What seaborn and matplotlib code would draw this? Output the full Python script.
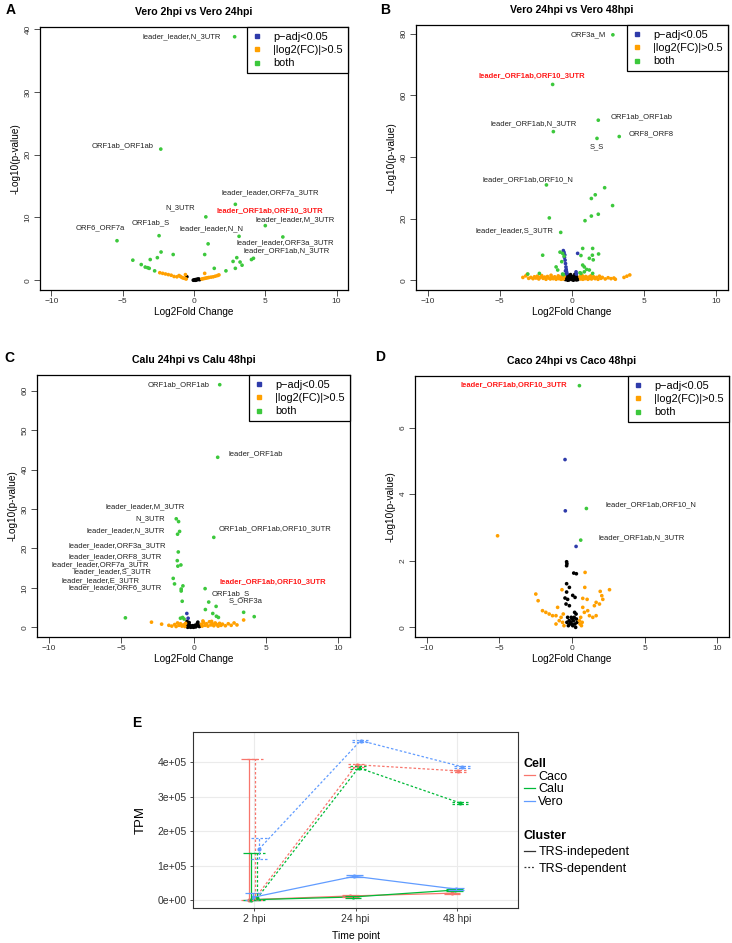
import numpy as np
import pandas as pd
import matplotlib
matplotlib.use("Agg")
import matplotlib.pyplot as plt
import seaborn as sns
from matplotlib.lines import Line2D

plt.rcParams['font.family'] = ['Liberation Sans', 'DejaVu Sans']

# ---------------- volcano data: (log2FC, -log10 p) ----------------
A_BOTH = [(2.85, 38.8), (-2.33, 20.9), (2.9, 12.1), (0.83, 10.1), (5.0, 8.7), (-5.4, 6.3),
          (-2.45, 7.1), (3.16, 7.0), (6.23, 6.9), (0.99, 5.8), (-2.31, 4.5), (-1.46, 4.1),
          (-2.57, 3.6), (0.75, 4.1), (3.0, 3.6), (-4.29, 3.2), (-3.07, 3.3), (2.74, 3.0),
          (3.23, 2.9), (4.03, 3.3), (4.17, 3.5), (3.37, 2.4), (-3.7, 2.5), (-3.42, 2.1),
          (-3.25, 2.0), (-3.14, 1.9), (-2.76, 1.5), (1.42, 1.9), (2.9, 1.9), (2.24, 1.5)]
A_LFC = [(-2.4, 1.2), (-2.2, 1.1), (-2.0, 1.0), (-1.8, 0.9), (-1.6, 0.8), (-1.4, 0.6),
         (-1.2, 0.55), (-1.05, 0.75), (-0.95, 0.6), (-0.85, 0.45), (-0.75, 0.35), (-0.65, 0.3),
         (-0.6, 0.9), (-0.55, 0.2), (0.55, 0.2), (0.65, 0.25), (0.75, 0.3), (0.85, 0.35),
         (0.95, 0.4), (1.05, 0.45), (1.2, 0.5), (1.35, 0.55), (1.5, 0.65), (1.65, 0.75),
         (1.75, 0.85), (0.75, 1.1)]
A_PADJ = []
A_NONE = [(0.0, 0.0), (0.05, 0.05), (0.1, 0.1), (0.15, 0.05), (0.2, 0.15), (0.25, 0.1),
          (0.3, 0.2), (0.35, 0.15), (0.1, 0.0), (-0.05, 0.02), (-0.5, 0.55), (0.4, 0.1)]
A_LABELS = [("leader_leader,N_3UTR", -0.83, 38.8, False), ("ORF1ab_ORF1ab", -5.0, 21.4, False),
            ("leader_leader,ORF7a_3UTR", 5.38, 13.9, False), ("N_3UTR", -0.94, 11.5, False),
            ("leader_ORF1ab,ORF10_3UTR", 5.31, 11.0, True), ("leader_leader,M_3UTR", 7.08, 9.7, False),
            ("ORF1ab_S", -3.07, 9.2, False), ("ORF6_ORF7a", -6.56, 8.35, False),
            ("leader_leader,N_N", 1.23, 8.2, False), ("leader_leader,ORF3a_3UTR", 6.42, 6.0, False),
            ("leader_ORF1ab,N_3UTR", 6.49, 4.7, False)]

B_BOTH = [(2.83, 79.6), (-1.34, 63.5), (1.82, 51.9), (-1.29, 48.2), (3.27, 46.6), (1.73, 46.0),
          (-1.77, 30.9), (2.26, 30.0), (1.61, 27.7), (1.34, 26.5), (2.81, 24.2), (-1.57, 20.2),
          (1.82, 21.4), (1.34, 20.8), (0.9, 19.3), (-0.78, 15.5),
          (-2.03, 8.1), (-0.83, 9.1), (-0.65, 8.7), (-0.55, 7.8), (0.74, 10.3), (1.43, 10.3),
          (1.41, 8.1), (1.84, 8.5), (1.2, 7.1), (1.47, 6.6), (0.62, 8.0), (-1.1, 4.3),
          (-0.99, 3.3), (-0.71, 6.0), (0.74, 4.9), (0.85, 4.3), (1.01, 3.5), (1.2, 3.3),
          (0.85, 2.7), (0.62, 2.2), (-3.06, 2.0), (-2.26, 2.2), (-0.65, 2.0), (-0.6, 1.8),
          (0.55, 2.4), (1.43, 2.2)]
B_PADJ = [(-0.6, 9.6), (-0.55, 9.0), (-0.5, 8.2), (-0.52, 7.4), (-0.48, 6.5), (-0.45, 5.4),
          (-0.42, 4.3), (-0.4, 3.5), (-0.38, 2.8), (-0.35, 2.2), (-0.45, 3.0), (0.28, 2.7),
          (0.39, 8.7), (0.3, 2.0), (-0.5, 1.6)]
B_LFC = [(-3.4, 0.9), (-3.2, 1.4), (-3.1, 1.9), (-3.0, 0.6), (-2.85, 0.9), (-2.7, 0.5),
         (-2.6, 1.1), (-2.5, 0.7), (-2.4, 1.3), (-2.3, 0.4), (-2.2, 0.9), (-2.1, 1.5),
         (-2.0, 0.6), (-1.9, 1.0), (-1.8, 0.3), (-1.7, 1.2), (-1.6, 0.7), (-1.5, 0.4),
         (-1.45, 1.6), (-1.4, 0.9), (-1.3, 0.5), (-1.2, 1.1), (-1.1, 0.3), (-1.0, 0.8),
         (-0.95, 1.4), (-0.9, 0.5), (-0.8, 1.0), (-0.75, 0.3), (-0.7, 0.7), (-0.65, 1.7),
         (-0.6, 0.4), (-0.55, 1.2), (0.55, 1.1), (0.6, 0.4), (0.65, 0.8), (0.7, 1.5),
         (0.75, 0.3), (0.8, 0.9), (0.9, 0.5), (0.95, 1.2), (1.0, 0.7), (1.1, 0.3),
         (1.15, 1.0), (1.2, 0.6), (1.3, 1.4), (1.35, 0.4), (1.45, 0.8), (1.5, 1.1),
         (1.6, 0.5), (1.7, 0.9), (1.8, 0.3), (1.9, 1.3), (2.0, 0.6), (2.1, 0.9),
         (2.3, 0.4), (2.5, 0.8), (2.7, 0.5), (2.9, 0.7), (3.0, 0.3), (3.6, 0.9),
         (3.8, 1.3), (4.0, 1.7)]
B_NONE = [(-0.45, 0.2), (-0.4, 0.8), (-0.35, 1.2), (-0.3, 0.4), (-0.25, 1.6), (-0.2, 0.1),
          (-0.15, 0.9), (-0.1, 0.5), (-0.05, 1.3), (0.0, 0.2), (0.05, 0.7), (0.1, 1.1),
          (0.15, 0.3), (0.2, 0.8), (0.25, 1.5), (0.3, 0.5), (0.35, 1.0), (0.4, 0.2),
          (0.45, 0.6), (-0.42, 1.9), (-0.1, 1.8), (0.2, 1.9), (-0.3, 0.0), (0.1, 0.0), (0.3, 0.1)]
B_LABELS = [("ORF3a_M", 1.15, 79.6, False), ("leader_ORF1ab,ORF10_3UTR", -2.79, 66.2, True),
            ("ORF1ab_ORF1ab", 4.82, 53.0, False), ("leader_ORF1ab,N_3UTR", -2.65, 50.6, False),
            ("ORF8_ORF8", 5.46, 47.4, False), ("S_S", 1.73, 43.4, False),
            ("leader_ORF1ab,ORF10_N", -3.06, 32.7, False), ("leader_leader,S_3UTR", -3.99, 16.1, False)]

C_BOTH = [(1.81, 61.5), (1.67, 43.1), (-1.19, 27.5), (-1.03, 26.8), (-0.96, 24.3), (-1.1, 23.6),
          (1.4, 22.8), (-1.05, 19.1), (-1.12, 16.9), (-0.87, 15.8), (-1.08, 15.5), (-1.4, 12.4),
          (-1.31, 11.0), (-0.73, 10.5), (-0.85, 9.7), (-0.85, 9.2), (0.8, 9.8), (-0.78, 6.6),
          (1.05, 6.4), (1.56, 5.3), (0.82, 4.5), (1.33, 3.5), (1.58, 2.8), (1.72, 2.5),
          (3.46, 3.8), (4.19, 2.7), (-4.7, 2.4), (-0.9, 2.3), (-0.75, 2.5), (-0.65, 2.1)]
C_PADJ = [(-0.46, 3.5), (-0.37, 2.3)]
C_LFC = [(-2.9, 1.3), (-2.2, 0.8), (3.46, 1.85), (-1.7, 0.5), (-1.5, 0.3), (-1.3, 0.7),
         (-1.2, 0.2), (-1.0, 0.5), (-0.9, 0.9), (-0.8, 0.3), (-0.7, 0.6), (-0.6, 0.2),
         (-0.55, 1.0), (0.55, 0.8), (0.6, 0.3), (0.7, 1.2), (0.8, 0.5), (0.9, 0.9),
         (1.0, 0.3), (1.1, 1.4), (1.2, 0.6), (1.3, 0.9), (1.4, 0.4), (1.5, 1.1),
         (1.6, 0.7), (1.7, 0.3), (1.8, 1.0), (1.9, 0.5), (2.0, 0.8), (2.2, 0.4),
         (2.4, 0.9), (2.6, 0.5), (2.8, 1.1), (3.0, 0.6), (0.65, 1.6), (1.25, 1.5), (-1.1, 1.1)]
C_NONE = [(-0.45, 0.3), (-0.4, 0.0), (-0.35, 0.8), (-0.3, 0.2), (-0.25, 0.5), (-0.2, 0.0),
          (-0.15, 0.3), (-0.1, 0.1), (-0.05, 0.4), (0.0, 0.0), (0.05, 0.2), (0.1, 0.5),
          (0.15, 0.1), (0.2, 0.3), (0.25, 0.9), (0.3, 1.3), (0.35, 0.6), (0.4, 0.2),
          (0.45, 0.4), (-0.3, 1.2), (-0.45, 1.5)]
C_LABELS = [("ORF1ab_ORF1ab", -1.03, 61.5, False), ("leader_ORF1ab", 4.31, 44.0, False),
            ("leader_leader,M_3UTR", -3.37, 30.6, False), ("N_3UTR", -2.98, 27.4, False),
            ("leader_leader,N_3UTR", -4.7, 24.5, False), ("ORF1ab_ORF1ab,ORF10_3UTR", 5.64, 25.0, False),
            ("leader_leader,ORF3a_3UTR", -5.27, 20.6, False), ("leader_leader,ORF8_3UTR", -5.43, 18.0, False),
            ("leader_leader,ORF7a_3UTR", -6.41, 15.9, False), ("leader_leader,S_3UTR", -5.59, 14.1, False),
            ("leader_leader,E_3UTR", -6.39, 11.8, False), ("leader_ORF1ab,ORF10_3UTR", 5.45, 11.4, True),
            ("leader_leader,ORF6_3UTR", -5.43, 9.9, False), ("ORF1ab_S", 2.59, 8.6, False),
            ("S_ORF3a", 3.62, 6.6, False)]

D_BOTH = [(0.51, 7.26), (0.99, 3.57), (0.6, 2.62)]
D_PADJ = [(-0.48, 5.04), (-0.46, 3.5), (0.28, 2.43)]
D_LFC = [(-5.12, 2.75), (0.9, 1.65), (0.88, 1.2), (2.58, 1.13), (1.94, 1.08), (-2.49, 1.0),
         (-0.69, 1.13), (2.05, 0.95), (-2.33, 0.8), (2.12, 0.84), (0.74, 0.87), (1.04, 0.84),
         (1.66, 0.75), (1.54, 0.65), (1.89, 0.7), (-2.03, 0.5), (-1.8, 0.45), (-1.57, 0.4),
         (-1.34, 0.35), (-1.1, 0.35), (-0.99, 0.6), (-0.88, 0.2), (-0.65, 0.15), (0.74, 0.6),
         (0.85, 0.45), (1.08, 0.5), (1.2, 0.35), (1.43, 0.3), (1.66, 0.35), (0.51, 0.2),
         (0.55, 0.1), (-1.1, 0.1), (-0.6, 0.4), (-0.75, 0.3), (0.6, 0.3), (0.7, 0.15),
         (-0.55, 0.05), (0.65, 0.05)]
D_NONE = [(-0.37, 1.97), (-0.35, 1.91), (-0.37, 1.85), (0.12, 1.63), (0.3, 1.61), (-0.37, 1.31),
          (-0.18, 1.2), (-0.37, 1.06), (0.05, 0.96), (0.21, 0.9), (-0.48, 0.88), (-0.3, 0.84),
          (-0.41, 0.7), (-0.18, 0.65), (0.18, 0.45), (0.28, 0.4), (-0.3, 0.3), (-0.2, 0.2),
          (-0.1, 0.15), (0.0, 0.1), (0.1, 0.2), (0.2, 0.1), (0.3, 0.25), (-0.05, 0.3),
          (0.05, 0.05), (-0.25, 0.05), (0.15, 0.3), (-0.15, 0.1), (0.35, 0.15), (-0.35, 0.15),
          (0.0, 0.25), (0.25, 0.0)]
D_LABELS = [("leader_ORF1ab,ORF10_3UTR", -3.99, 7.26, True),
            ("leader_ORF1ab,ORF10_N", 5.41, 3.67, False),
            ("leader_ORF1ab,N_3UTR", 4.82, 2.69, False)]

# ---------------- time course data (TPM) ----------------
TIMES = ["2 hpi", "24 hpi", "48 hpi"]
CELLS = ["Caco", "Calu", "Vero"]
CLUSTERS = ["TRS-indepedent", "TRS-dependent"]
TPM_MEAN = {
    ("Caco", "TRS-indepedent"): [1e3, 1.2e4, 2.0e4],
    ("Calu", "TRS-indepedent"): [1e3, 0.9e4, 2.9e4],
    ("Vero", "TRS-indepedent"): [8e3, 6.9e4, 3.2e4],
    ("Caco", "TRS-dependent"): [5e3, 3.93e5, 3.75e5],
    ("Calu", "TRS-dependent"): [5e3, 3.84e5, 2.82e5],
    ("Vero", "TRS-dependent"): [1.48e5, 4.63e5, 3.87e5],
}
TPM_LO = {
    ("Caco", "TRS-indepedent"): [0, 1.0e4, 1.8e4],
    ("Calu", "TRS-indepedent"): [0, 0.7e4, 2.7e4],
    ("Vero", "TRS-indepedent"): [0, 6.6e4, 3.0e4],
    ("Caco", "TRS-dependent"): [0, 3.86e5, 3.72e5],
    ("Calu", "TRS-dependent"): [0, 3.80e5, 2.79e5],
    ("Vero", "TRS-dependent"): [1.2e5, 4.60e5, 3.84e5],
}
TPM_HI = {
    ("Caco", "TRS-indepedent"): [4.1e5, 1.4e4, 2.2e4],
    ("Calu", "TRS-indepedent"): [1.37e5, 1.1e4, 3.1e4],
    ("Vero", "TRS-indepedent"): [2.0e4, 7.2e4, 3.4e4],
    ("Caco", "TRS-dependent"): [4.1e5, 3.96e5, 3.78e5],
    ("Calu", "TRS-dependent"): [1.37e5, 3.88e5, 2.85e5],
    ("Vero", "TRS-dependent"): [1.8e5, 4.65e5, 3.90e5],
}

PAL = {"none": "black", "padj": "#2E3BAA", "lfc": "#FFA000", "both": "#3CC83C"}
CELL_PAL = {"Caco": "#F8766D", "Calu": "#00BA38", "Vero": "#619CFF"}
W, H = 732, 943

fig = plt.figure(figsize=(W / 100, H / 100), dpi=100)


def px_axes(l, t, r, b):
    return fig.add_axes([l / W, 1 - b / H, (r - l) / W, (b - t) / H])


def volcano(ax, groups, labels, yticks, title, letter, letter_xy):
    rows = []
    for cat, pts in groups:
        for x, y in pts:
            rows.append({"lfc": x, "nlp": y, "cat": cat})
    df = pd.DataFrame(rows)
    sns.scatterplot(data=df, x="lfc", y="nlp", hue="cat", palette=PAL,
                    hue_order=["none", "padj", "lfc", "both"], s=7, linewidth=0,
                    legend=False, ax=ax)
    r = df.nlp.max()
    ax.set_ylim(-0.04 * r, r * 1.04)
    ax.set_xlim(-10.8, 10.8)
    ax.set_xticks([-10, -5, 0, 5, 10])
    ax.set_xticklabels(["\u221210", "\u22125", "0", "5", "10"])
    ax.set_yticks(yticks)
    ax.tick_params(labelsize=6, colors="#333333", length=4, width=0.6, pad=2)
    plt.setp(ax.get_yticklabels(), rotation=90, va="center")
    for s in ax.spines.values():
        s.set_linewidth(0.9)
        s.set_color("black")
    ax.set_xlabel("Log2Fold Change", fontsize=7.2, labelpad=1)
    ax.set_ylabel("-Log10(p-value)", fontsize=7.2, labelpad=3)
    ax.set_title(title, fontsize=7.6, fontweight="bold", pad=8.5)
    for txt, x, y, red in labels:
        ax.text(x, y, txt, ha="center", va="center", fontsize=5.5,
                color="#FF1A1A" if red else "#222222",
                fontweight="bold" if red else "normal")
    handles = [Line2D([], [], marker="s", ls="", color=PAL[k], ms=2.5)
               for k in ["padj", "lfc", "both"]]
    leg = ax.legend(handles, ["p\u2212adj<0.05", "|log2(FC)|>0.5", "both"],
                    loc="upper right", borderaxespad=0, fontsize=7.8,
                    fancybox=False, framealpha=1, edgecolor="black",
                    handletextpad=1.0, labelspacing=0.3, borderpad=0.45,
                    handlelength=1.0)
    leg.get_frame().set_linewidth(0.9)
    fig.text(letter_xy[0] / W, 1 - letter_xy[1] / H, letter, fontsize=10,
             fontweight="bold", ha="center", va="center")


axA = px_axes(40, 27, 348, 290)
volcano(axA, [("none", A_NONE), ("padj", A_PADJ), ("lfc", A_LFC), ("both", A_BOTH)],
        A_LABELS, [0, 10, 20, 30, 40], "Vero 2hpi vs Vero 24hpi", "A", (11, 10))
axB = px_axes(416, 25, 728, 290)
volcano(axB, [("none", B_NONE), ("padj", B_PADJ), ("lfc", B_LFC), ("both", B_BOTH)],
        B_LABELS, [0, 20, 40, 60, 80], "Vero 24hpi vs Vero 48hpi", "B", (385, 10))
axC = px_axes(37, 375, 350, 637)
volcano(axC, [("none", C_NONE), ("padj", C_PADJ), ("lfc", C_LFC), ("both", C_BOTH)],
        C_LABELS, [0, 10, 20, 30, 40, 50, 60], "Calu 24hpi vs Calu 48hpi", "C", (9, 358))
axD = px_axes(415, 376, 729, 637)
volcano(axD, [("none", D_NONE), ("padj", D_PADJ), ("lfc", D_LFC), ("both", D_BOTH)],
        D_LABELS, [0, 2, 4, 6], "Caco 24hpi vs Caco 48hpi", "D", (380, 357))

# ---------------- panel E ----------------
axE = px_axes(193, 732, 518, 908)
OFFS = {("Caco", "TRS-indepedent"): -0.05, ("Calu", "TRS-indepedent"): -0.025,
        ("Vero", "TRS-indepedent"): -0.01, ("Caco", "TRS-dependent"): 0.01,
        ("Calu", "TRS-dependent"): 0.03, ("Vero", "TRS-dependent"): 0.05}
rows = []
for (cell, cl), vals in TPM_MEAN.items():
    for i, t in enumerate(TIMES):
        rows.append({"cell": cell, "cluster": cl, "x": i + 1 + OFFS[(cell, cl)],
                     "tpm": vals[i], "lo": TPM_LO[(cell, cl)][i], "hi": TPM_HI[(cell, cl)][i]})
dfE = pd.DataFrame(rows)

for xv in [1, 2, 3]:
    axE.axvline(xv, color="#EBEBEB", lw=0.8, zorder=0)
for yv in [0, 1e5, 2e5, 3e5, 4e5]:
    axE.axhline(yv, color="#EBEBEB", lw=0.8, zorder=0)

dash = {"TRS-indepedent": "", "TRS-dependent": (2, 1.6)}
sns.lineplot(data=dfE, x="x", y="tpm", hue="cell", style="cluster", palette=CELL_PAL,
             hue_order=CELLS, style_order=CLUSTERS, dashes=dash, estimator=None,
             lw=0.9, marker="o", markersize=3, markeredgewidth=0, legend=False, ax=axE)
for _, r in dfE.iterrows():
    ls = "-" if r.cluster == "TRS-indepedent" else (0, (2, 1.6))
    c = CELL_PAL[r.cell]
    axE.vlines(r.x, r.lo, r.hi, colors=c, linestyles=ls, lw=0.9)
    axE.hlines([r.lo, r.hi], r.x - 0.08, r.x + 0.08, colors=c, linestyles=ls, lw=0.9)

axE.set_xlim(0.4, 3.6)
axE.set_ylim(-0.23e5, 4.88e5)
axE.set_xticks([1, 2, 3])
axE.set_xticklabels(TIMES)
yt = [0, 1e5, 2e5, 3e5, 4e5]
axE.set_yticks(yt)
axE.set_yticklabels(["%.0e" % v for v in yt])
axE.tick_params(labelsize=7.5, colors="#333333", length=2.5, width=0.6, pad=2)
for s in axE.spines.values():
    s.set_linewidth(0.8)
    s.set_color("#333333")
axE.set_xlabel("Time point", fontsize=7.5, labelpad=5)
axE.set_ylabel("TPM", fontsize=9.5, labelpad=8)
fig.text(137 / W, 1 - 723 / H, "E", fontsize=10, fontweight="bold", ha="center", va="center")

cell_h = [Line2D([], [], color=CELL_PAL[c], lw=0.9) for c in CELLS]
leg1 = axE.legend(cell_h, CELLS, title="Cell", loc="upper left",
                  bbox_to_anchor=(524 / W, 1 - 758 / H), bbox_transform=fig.transFigure,
                  frameon=False, fontsize=9, title_fontsize=9, handlelength=0.9,
                  handletextpad=0.25, labelspacing=0.05, borderpad=0, borderaxespad=0)
leg1.get_title().set_fontweight("bold")
leg1._legend_box.align = "left"
axE.add_artist(leg1)
cl_h = [Line2D([], [], color="#333333", lw=0.9),
        Line2D([], [], color="#333333", lw=0.9, ls=(0, (1.5, 1.5)))]
leg2 = axE.legend(cl_h, CLUSTERS, title="Cluster", loc="upper left",
                  bbox_to_anchor=(524 / W, 1 - 830 / H), bbox_transform=fig.transFigure,
                  frameon=False, fontsize=9, title_fontsize=9, handlelength=0.9,
                  handletextpad=0.25, labelspacing=0.35, borderpad=0, borderaxespad=0)
leg2.get_title().set_fontweight("bold")
leg2._legend_box.align = "left"

fig.savefig("out.png", dpi=100)
